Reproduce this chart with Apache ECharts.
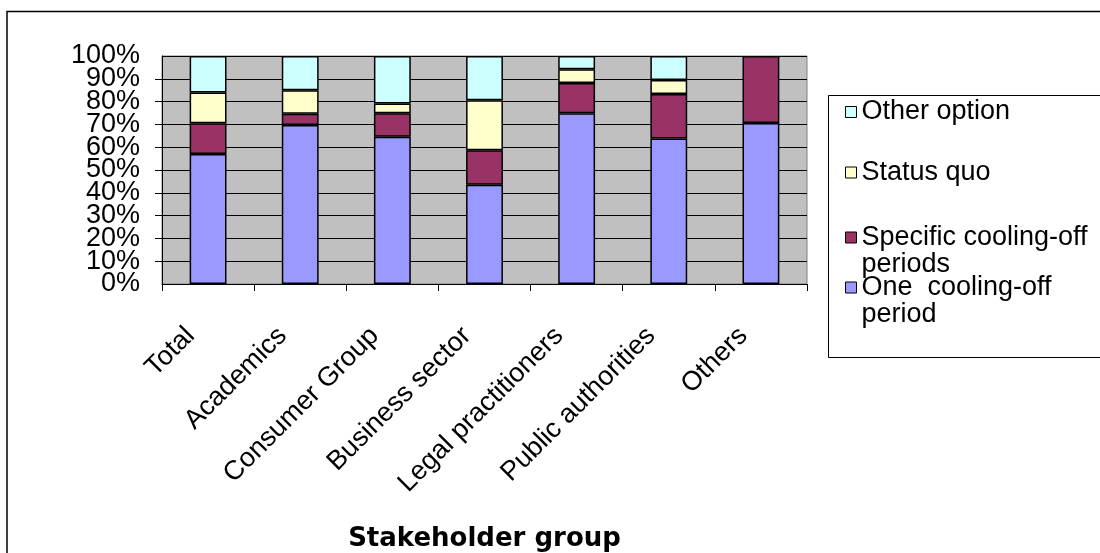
<!DOCTYPE html>
<html>
<head>
<meta charset="utf-8">
<script src="https://cdn.jsdelivr.net/npm/echarts@6/dist/echarts.min.js"></script>
<style>
  html, body { margin: 0; padding: 0; background: #ffffff; }
  #chart { width: 1100px; height: 553px; }
</style>
</head>
<body>
<div id="chart"></div>
<script>
// Stakeholder groups along the x axis
const categories = ['Total', 'Academics', 'Consumer Group', 'Business sector',
  'Legal practitioners', 'Public authorities', 'Others'];

// Share of responses per option (percent of each group)
const oneCoolingOff   = [57.0, 69.7, 64.6, 43.5, 74.9, 63.8, 70.6];
const specificPeriods = [13.5,  5.0, 10.3, 15.2, 13.3, 19.5, 29.4];
const statusQuo       = [13.5, 10.3,  4.3, 21.9,  6.0,  6.2,  0];
const otherOption     = [16.0, 15.0, 20.8, 19.4,  5.8, 10.5,  0];

const yTicks = [0, 10, 20, 30, 40, 50, 60, 70, 80, 90, 100];

const FONT = '"Liberation Sans", Arial, sans-serif';
const LINE = 27;
const Y_MIN = yTicks[0];
const Y_MAX = yTicks[yTicks.length - 1];

const seriesDefs = [
  { name: 'One  cooling-off period', label: 'One  cooling-off\nperiod', data: oneCoolingOff, color: '#9999FF', y: 287.5, lines: 2 },
  { name: 'Specific cooling-off periods', label: 'Specific cooling-off\nperiods', data: specificPeriods, color: '#993366', y: 237.5, lines: 2 },
  { name: 'Status quo', label: 'Status quo', data: statusQuo, color: '#FFFFCC', y: 172.5, lines: 1 },
  { name: 'Other option', label: 'Other option', data: otherOption, color: '#CCFFFF', y: 112, lines: 1 }
];

// one legend block per option, so each can sit at its own height;
// two-line entries get an empty leading line so the swatch lines up with the first line of text
const legends = seriesDefs.map(s => ({
  data: [s.name],
  orient: 'vertical',
  left: 845,
  top: s.lines === 2 ? s.y - LINE * 1.5 : s.y - LINE / 2,
  padding: 0,
  itemWidth: 11,
  itemHeight: 11,
  itemGap: 0,
  icon: 'rect',
  selectedMode: false,
  formatter: () => (s.lines === 2 ? '\n' + s.label : s.label),
  itemStyle: { borderColor: '#000', borderWidth: 1 },
  textStyle: { fontFamily: FONT, fontSize: 27, color: '#000', lineHeight: LINE }
}));

const yLabelStyle = { fontFamily: FONT, fontSize: 27, color: '#000', margin: 22 };

const chart = echarts.init(document.getElementById('chart'), null, { renderer: 'canvas' });

chart.setOption({
  animation: false,
  backgroundColor: '#ffffff',
  graphic: [
    { type: 'rect', shape: { x: 7, y: 11.5, width: 1200, height: 700 }, style: { fill: 'none', stroke: '#000', lineWidth: 1.5 }, z: -10 },
    { type: 'rect', shape: { x: 828.5, y: 95.5, width: 400, height: 262 }, style: { fill: '#fff', stroke: '#000', lineWidth: 1 }, z: -5 }
  ],
  legend: legends,
  grid: {
    left: 162, right: 293, top: 56, bottom: 259.5,
    show: true, backgroundColor: '#C0C0C0', borderColor: '#808080', borderWidth: 1
  },
  xAxis: {
    type: 'category',
    data: categories,
    boundaryGap: true,
    axisLine: { lineStyle: { color: '#000', width: 1 } },
    axisTick: { show: true, length: 7, lineStyle: { color: '#000' } },
    axisLabel: {
      rotate: 45, margin: 30, padding: [0, 25, 0, 0],
      fontFamily: FONT, fontSize: 27, color: '#000', interval: 0
    },
    name: 'Stakeholder group',
    nameLocation: 'middle',
    nameGap: 242,
    nameTextStyle: { fontFamily: '"DejaVu Sans", sans-serif', fontSize: 26, fontWeight: 'bold', color: '#000' }
  },
  yAxis: [
    {
      // main value axis: grid, ticks and the inner percent labels
      type: 'value',
      position: 'left',
      min: Y_MIN, max: Y_MAX,
      interval: yTicks[1] - yTicks[0],
      axisLine: { show: true, lineStyle: { color: '#000', width: 1 } },
      axisTick: { show: true, length: 7, lineStyle: { color: '#000' } },
      axisLabel: Object.assign({ formatter: '{value}%', showMinLabel: false, showMaxLabel: false }, yLabelStyle),
      splitLine: { show: true, lineStyle: { color: '#000', width: 1 } }
    },
    {
      // same scale, carries only the 0% and 100% end labels
      type: 'value',
      position: 'left',
      min: Y_MIN, max: Y_MAX,
      interval: yTicks[1] - yTicks[0],
      axisLine: { show: false },
      axisTick: { show: false },
      splitLine: { show: false },
      axisLabel: Object.assign({
        formatter: v => (v === Y_MIN || v === Y_MAX ? v + '%' : ''),
        showMinLabel: true, showMaxLabel: true
      }, yLabelStyle)
    }
  ],
  series: seriesDefs.map(s => ({
    name: s.name,
    type: 'bar',
    stack: 'share',
    barWidth: '40%',
    data: s.data.map(v => (v === 0 ? '-' : v)),
    itemStyle: { color: s.color, borderColor: '#000', borderWidth: 1.5 }
  }))
});
</script>
</body>
</html>
